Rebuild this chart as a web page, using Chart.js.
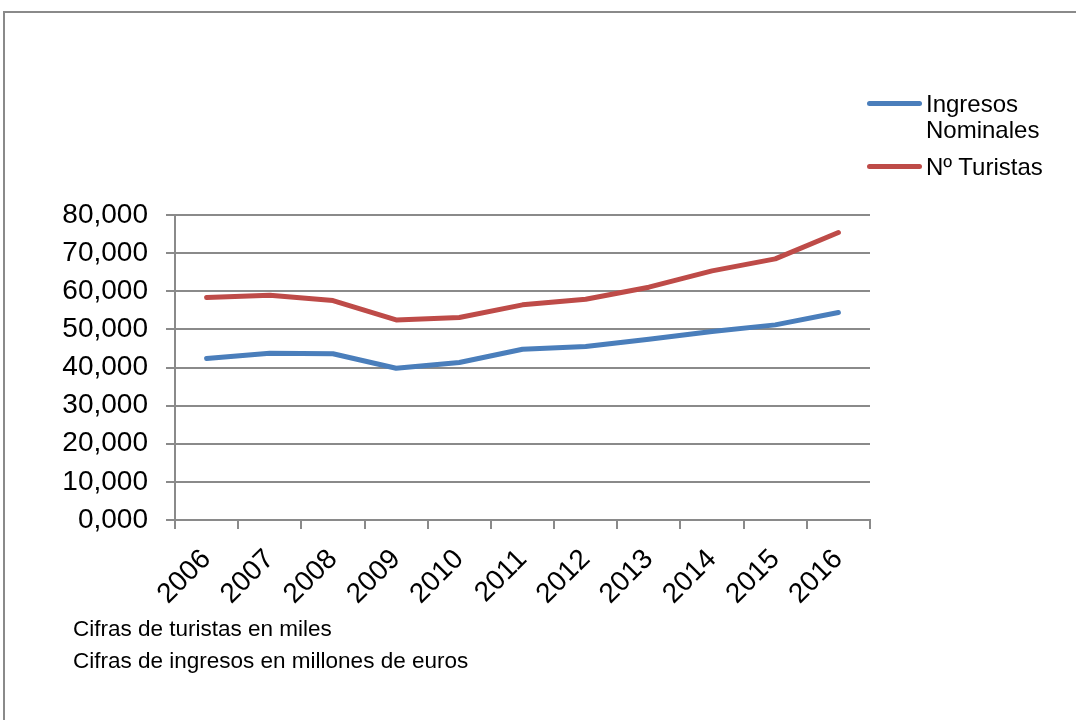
<!DOCTYPE html>
<html>
<head>
<meta charset="utf-8">
<script src="https://cdn.jsdelivr.net/npm/chart.js@4.4.1/dist/chart.umd.min.js"></script>
<style>
  body{margin:0;background:#fff;font-family:"Liberation Sans",Arial,sans-serif;}
  #wrap{position:relative;width:1076px;height:720px;overflow:hidden;}
  #frame{position:absolute;left:3px;top:11px;width:1200px;height:800px;border:2px solid #8a8a8a;box-sizing:border-box;}
  #chart{position:absolute;left:0;top:0;}
  .leg-line{position:absolute;left:867px;width:55px;height:5px;border-radius:3px;}
  .leg-text{position:absolute;left:926px;font-size:24px;line-height:26px;color:#000;}
  .note{position:absolute;left:73px;font-size:22.5px;line-height:32px;color:#000;}
</style>
</head>
<body>
<div id="wrap">
  <div id="frame"></div>
  <canvas id="chart" width="1076" height="720"></canvas>
  <div id="legend"></div>
  <div class="note" style="top:613px">Cifras de turistas en miles</div>
  <div class="note" style="top:645px">Cifras de ingresos en millones de euros</div>
</div>
<script>
const years = ['2006','2007','2008','2009','2010','2011','2012','2013','2014','2015','2016'];
const ingresos = [42.34, 43.74, 43.60, 39.80, 41.30, 44.80, 45.49, 47.43, 49.43, 51.18, 54.42];
const turistas = [58.35, 58.97, 57.56, 52.49, 53.10, 56.43, 57.92, 61.07, 65.35, 68.50, 75.41];
const yTicks = [0, 10, 20, 30, 40, 50, 60, 70, 80];

const series = [
  {label:'Ingresos Nominales', lines:['Ingresos','Nominales'], data:ingresos, color:'#4a7ebb', top:91},
  {label:'Nº Turistas', lines:['Nº Turistas'], data:turistas, color:'#be4b48', top:154}
];

const gridColor = '#8a8a8a';
const font = {family:'"Liberation Sans", Arial, sans-serif', size:28};

// legend on the right, built from the series list
const legend = document.getElementById('legend');
series.forEach(s=>{
  const line = document.createElement('div');
  line.className = 'leg-line';
  line.style.top = (s.top + 10) + 'px';
  line.style.background = s.color;
  legend.appendChild(line);
  const txt = document.createElement('div');
  txt.className = 'leg-text';
  txt.style.top = s.top + 'px';
  txt.innerHTML = s.lines.join('<br>');
  legend.appendChild(txt);
});

const fmt = v => v.toFixed(3).replace('.', ',');

new Chart(document.getElementById('chart'), {
  type:'line',
  data:{
    labels:years,
    datasets:series.map(s=>({
      label:s.label,
      data:s.data,
      borderColor:s.color,
      backgroundColor:s.color,
      borderWidth:5,
      pointRadius:0,
      tension:0,
      borderCapStyle:'round',
      borderJoinStyle:'round'
    }))
  },
  options:{
    responsive:false,
    animation:false,
    layout:{padding:{top:215, right:206, left:0, bottom:0}},
    plugins:{legend:{display:false}, tooltip:{enabled:false}},
    scales:{
      x:{
        offset:true,
        grid:{offset:true, drawOnChartArea:false, drawTicks:true, tickLength:9, color:gridColor, lineWidth:2},
        border:{display:true, color:gridColor, width:2},
        ticks:{color:'#000', font:font, minRotation:45, maxRotation:45, padding:14, autoSkip:false},
        afterFit:scale=>{ scale.height = 200; }
      },
      y:{
        min:yTicks[0],
        max:yTicks[yTicks.length-1],
        afterBuildTicks:scale=>{ scale.ticks = yTicks.map(v=>({value:v})); },
        grid:{color:gridColor, lineWidth:2, tickLength:9},
        border:{display:true, color:gridColor, width:2},
        ticks:{color:'#000', font:font, padding:18, callback:v=>fmt(v)},
        afterFit:scale=>{ scale.width = 175; }
      }
    }
  }
});
</script>
</body>
</html>
